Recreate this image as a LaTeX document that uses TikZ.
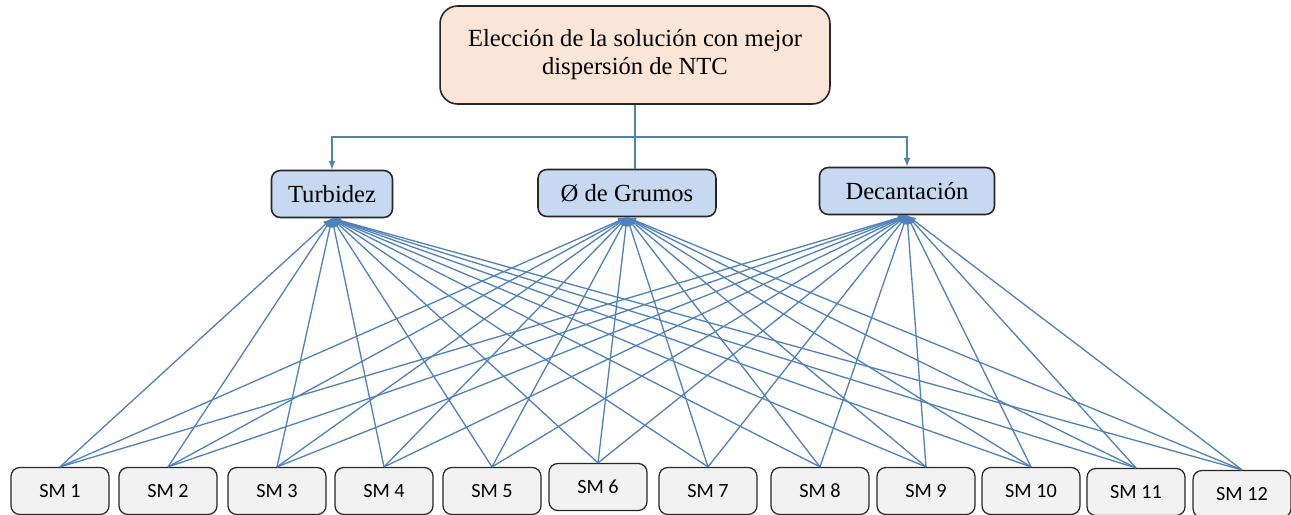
\documentclass[tikz,border=0pt]{standalone}
\usepackage{fontspec}
\setmainfont{Liberation Serif}
\newfontfamily\smfont{Carlito}
\usepackage{tikz}
\usetikzlibrary{arrows,positioning}

\definecolor{linkblue}{HTML}{4F81BD}
\definecolor{peach}{HTML}{FBE5D6}
\definecolor{critblue}{HTML}{C6D9F1}
\definecolor{smgray}{HTML}{F2F2F2}
\definecolor{edge}{HTML}{262626}

\tikzset{
	goalbox/.style={draw=edge, fill=peach, rounded corners=10pt, line width=0.9pt, minimum width=7.8cm, minimum height=1.96cm, align=center, font=\fontsize{14}{16}\selectfont},
	critbox/.style={draw=edge, fill=critblue, rounded corners=5pt, line width=0.9pt, minimum height=0.94cm, font=\fontsize{14}{16}\selectfont},
	smbox/.style={draw=edge, fill=smgray, rounded corners=5pt, line width=0.7pt, minimum width=1.96cm, minimum height=0.94cm, font=\smfont\fontsize{11.5}{13}\selectfont},
	link/.style={draw=linkblue, line width=0.75pt},
}

\begin{document}
\begin{tikzpicture}[x=0.02cm, y=-0.02cm, >=latex]
		\useasboundingbox (0,0) rectangle (1291,514);

		\node[goalbox] (goal) at (635,55) {Elección de la solución con mejor\\dispersión de NTC};

		\node[critbox, minimum width=2.42cm] (turb) at (332,194) {Turbidez};
		\node[critbox, minimum width=3.56cm] (grum) at (627,193) {Ø de Grumos};
		\node[critbox, minimum width=3.5cm] (dec) at (907,191) {Decantación};

		% alternativas
		\foreach \x/\y [count=\i] in {60/491, 168/491, 277/491, 384/491, 492/491, 598/487,
				708/491, 820/491, 926/491, 1031/491, 1136/492, 1242/494}
			\node[smbox] (sm\i) at (\x,\y) {SM \i};

		\coordinate (split) at (635,137);
		\draw[link] (goal.south) -- (goal.south |- grum.north);
		\draw[link, ->] (split) -| (turb.north);
		\draw[link, ->] (split) -| (dec.north);

		\foreach \i in {1,...,12}
			\foreach \c in {turb,grum,dec}
				\draw[link, ->] (sm\i.north) -- (\c.south);
\end{tikzpicture}
\end{document}
